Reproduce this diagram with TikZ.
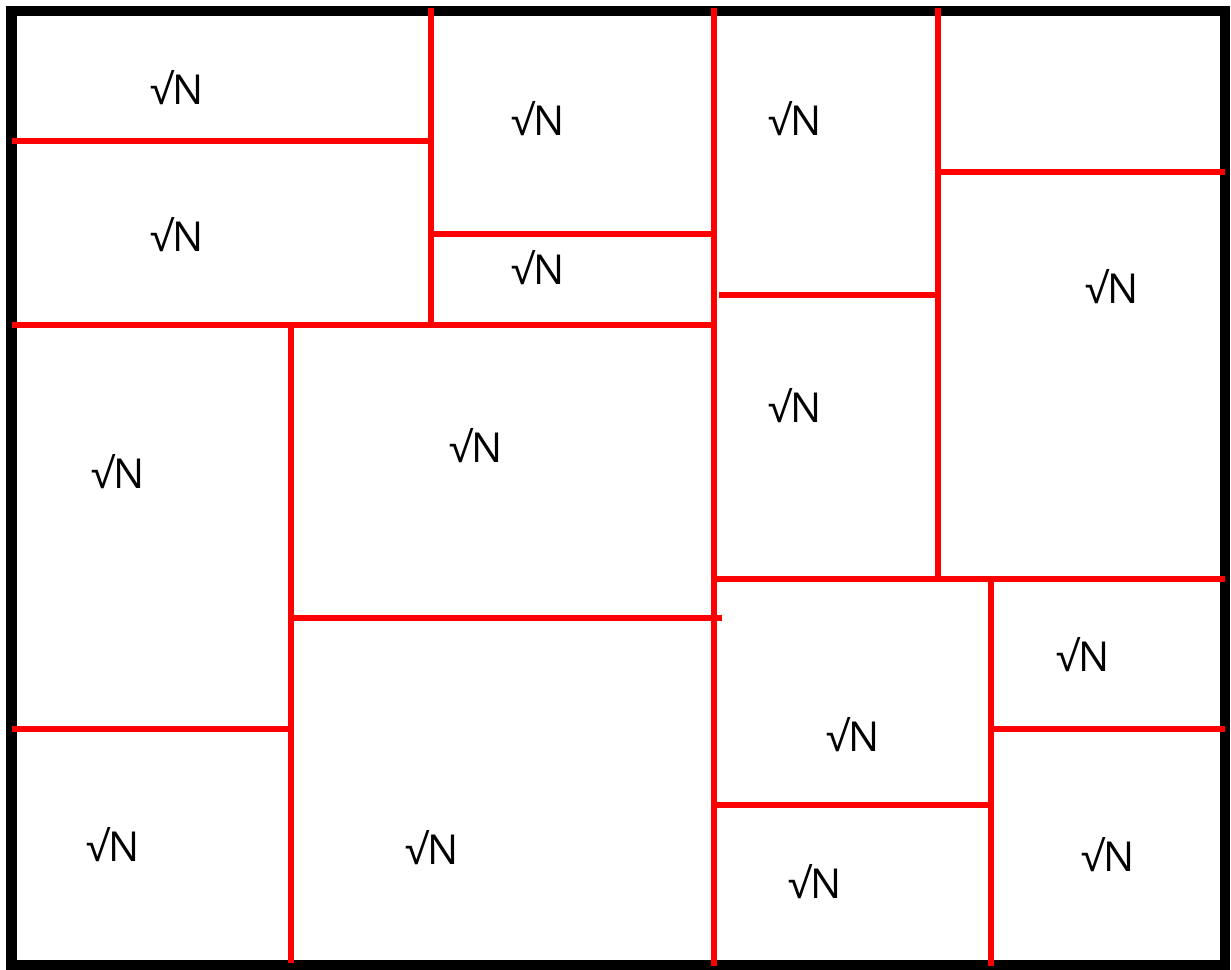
\documentclass[tikz,border=0pt]{standalone}
\usepackage{fontspec}
\setmainfont{Open Sans}
\usepackage{tikz}

\begin{document}
\begin{tikzpicture}[
    x=0.02cm, y=-0.02cm,
    every node/.style={font=\fontsize{23.5}{26}\selectfont, inner sep=0pt, yshift=1.6pt},
    frame/.style={draw=black, line width=6.2pt},
    cut/.style={draw=red, line width=2.9pt}
]
\useasboundingbox (0,0) rectangle (1231,970);
\draw[frame] (11.5,11) rectangle (1225,965);

% horizontal cuts
\draw[cut] (12,141) -- (431,141);
\draw[cut] (431,234) -- (714,234);
\draw[cut] (12,325) -- (714,325);
\draw[cut] (938,172) -- (1225,172);
\draw[cut] (719,295) -- (938,295);
\draw[cut] (714,579) -- (1225,579);
\draw[cut] (291,618) -- (722,618);
\draw[cut] (12,729) -- (291,729);
\draw[cut] (991,729) -- (1225,729);
\draw[cut] (714,805) -- (991,805);

% vertical cuts
\draw[cut] (431,8) -- (431,322);
\draw[cut] (714,8) -- (714,966);
\draw[cut] (938,8) -- (938,576);
\draw[cut] (291,322) -- (291,963);
\draw[cut] (991,576) -- (991,966);

% blocks
\node (b1) at (177,90) {√N};
\node (b2) at (177,237) {√N};
\node (b3) at (538,121) {√N};
\node (b4) at (538,270) {√N};
\node (b5) at (795,121) {√N};
\node (b6) at (1112,289) {√N};
\node (b7) at (795,408) {√N};
\node (b8) at (118,474) {√N};
\node (b9) at (476,448) {√N};
\node (b10) at (1083,657) {√N};
\node (b11) at (853,737) {√N};
\node (b12) at (113,847) {√N};
\node (b13) at (432,850) {√N};
\node (b14) at (815,884) {√N};
\node (b15) at (1108,857) {√N};
\end{tikzpicture}
\end{document}
